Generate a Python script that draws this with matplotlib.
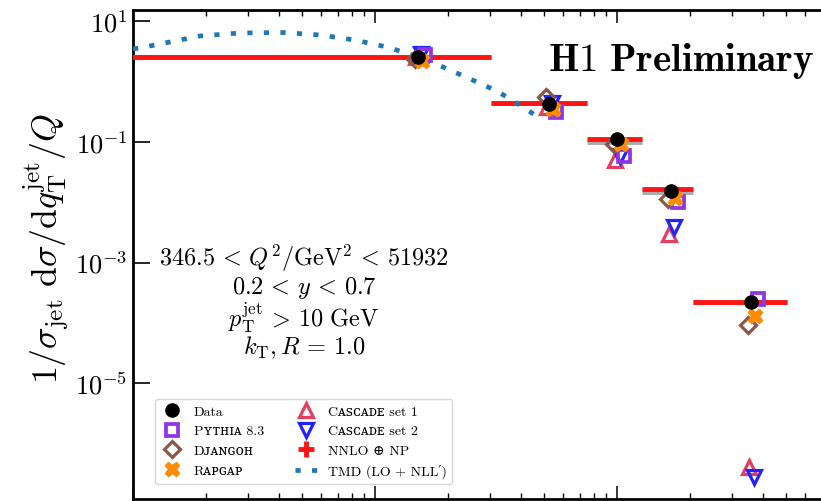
import matplotlib
matplotlib.use("Agg")
import matplotlib.pyplot as plt
from matplotlib.lines import Line2D
from matplotlib.ticker import LogLocator, NullLocator, NullFormatter
import numpy as np

plt.rcParams['mathtext.fontset'] = 'cm'
plt.rcParams['axes.formatter.use_mathtext'] = True

# ---------------- data ----------------
bin_lo = [0.001, 0.301, 0.752, 1.27, 2.06]
bin_hi = [0.301, 0.752, 1.27, 2.06, 5.04]
x_center = [0.151, 0.524, 1.0, 1.67, 3.58]

data = [2.54, 0.423, 0.111, 0.0153, 2.23e-4]
nnlo_np = [2.54, 0.439, 0.111, 0.0165, 2.23e-4]
nnlo = [2.54, 0.439, 0.100, 0.0147, 2.20e-4]
pythia = [2.74, 0.311, 0.058, 0.0101, 2.5e-4]
djangoh = [2.35, 0.552, 0.092, 0.0113, 9.3e-5]
rapgap = [2.18, 0.349, 0.092, 0.0117, 1.31e-4]
cascade1 = [2.54, 0.377, 0.050, 0.00297, 4.13e-7]
cascade2 = [2.85, 0.439, 0.058, 0.00389, 2.82e-7]

tmd_x = [0.0100, 0.01175, 0.0149, 0.0189, 0.0277, 0.0417, 0.0593, 0.0826,
         0.112, 0.151, 0.191, 0.247, 0.319, 0.409, 0.458]
tmd_y = [3.44, 3.86, 4.67, 5.65, 6.33, 6.45, 5.86, 4.84,
         3.71, 2.54, 1.73, 1.10, 0.694, 0.377, 0.278]

yticks = [1e1, 1e-1, 1e-3, 1e-5]
ytick_labels = [r'$10^{1}$', r'$10^{-1}$', r'$10^{-3}$', r'$10^{-5}$']
annot_lines = [r'$346.5\,<\,Q^2/\mathrm{GeV}^2\,<\,51932$',
               r'$0.2\,<\,y\,<\,0.7$',
               r'$p_\mathrm{T}^\mathrm{jet}\,>\,10\ \mathrm{GeV}$',
               r'$k_\mathrm{T}, R\,=\,1.0$']

# ---------------- figure ----------------
W, H = 821, 502
fig = plt.figure(figsize=(W / 100, H / 100), dpi=100)
ax_left, ax_right, ax_top, ax_bot = 133, 859, 11, 499.5
ax = fig.add_axes([ax_left / W, 1 - ax_bot / H, (ax_right - ax_left) / W,
                   (ax_bot - ax_top) / H])
ax.set_xscale('log')
ax.set_yscale('log')
ax.set_xlim(0.01, 10)
ax.set_ylim(10 ** (1 - (ax_bot - 22) / 60.4), 10 ** (1 + (22 - ax_top) / 60.4))


def dodge(px):
    return 10 ** (px / 242.0)


xc = np.array(x_center)

# NNLO lines
ax.hlines(nnlo, bin_lo, bin_hi, color='#aaaaaa', lw=3.5, zorder=2)
ax.hlines(nnlo_np, bin_lo, bin_hi, color='#ff1414', lw=3.5, zorder=3)

# TMD curve
ax.plot(tmd_x, tmd_y, color='#1f77b4', lw=3.4, linestyle=(0, (1.1, 2.4)),
        dash_capstyle='butt', zorder=4)

ms = 9.5
mew = 2.3
ax.plot(xc * dodge(-2), cascade1, ls='none', marker='^', ms=ms, mfc='none',
        mec='#e2405e', mew=mew, zorder=5)
ax.plot(xc * dodge(3), cascade2, ls='none', marker='v', ms=ms, mfc='none',
        mec='#2222ff', mew=mew, zorder=5)
ax.plot(xc * dodge(7), pythia, ls='none', marker='s', ms=ms - 1, mfc='none',
        mec='#9035e6', mew=mew + 0.4, zorder=5)
ax.plot(xc * dodge(-3), djangoh, ls='none', marker='D', ms=ms - 1, mfc='none',
        mec='#8c564b', mew=mew, zorder=6)
ax.plot(xc * dodge(4), rapgap, ls='none', marker='X', ms=ms + 1,
        color='#ff8c00', mec='#ff8c00', zorder=7)
ax.plot(xc, data, ls='none', marker='o', ms=ms, color='black', zorder=10)

# ticks
ax.set_yticks(yticks)
ax.set_yticklabels(ytick_labels)
ax.yaxis.set_minor_locator(NullLocator())
ax.xaxis.set_major_locator(LogLocator(base=10))
ax.xaxis.set_minor_locator(LogLocator(base=10, subs=np.arange(2, 10)))
ax.xaxis.set_major_formatter(NullFormatter())
ax.xaxis.set_minor_formatter(NullFormatter())
ax.tick_params(axis='y', which='major', direction='in', length=12, width=1.2,
               labelsize=19, pad=4, left=True, right=False)
ax.tick_params(axis='x', which='major', direction='in', length=9.5, width=1.1,
               top=True, bottom=True)
ax.tick_params(axis='x', which='minor', direction='in', length=4.5, width=1.0,
               top=True, bottom=True)
for s in ax.spines.values():
    s.set_linewidth(2.0)

# y label (size fitted so that it spans the same length as in the reference)
ylab = fig.text(46 / W, 1 - 248 / H,
                r'$1/\sigma_\mathrm{jet}\ \mathrm{d}\sigma/\mathrm{d}q_\mathrm{T}^\mathrm{jet}/Q$',
                rotation=90, ha='center', va='center', fontsize=18.5)
fig.canvas.draw()
bb = ylab.get_window_extent(renderer=fig.canvas.get_renderer())
ylab.set_fontsize(18.5 * 272.0 / bb.height)

# annotation
for line, ypx in zip(annot_lines, [258, 288, 318, 348]):
    fig.text(304 / W, 1 - ypx / H, line, ha='center', va='center', fontsize=17.5)

# H1 Preliminary
fig.text(548 / W, 1 - 61 / H, r'$\mathbf{H1\ Preliminary}$', ha='left',
         va='center', fontsize=28)

# legend
handles = [
    Line2D([], [], ls='none', marker='o', ms=ms, color='black'),
    Line2D([], [], ls='none', marker='s', ms=ms - 1, mfc='none', mec='#9035e6', mew=mew + 0.4),
    Line2D([], [], ls='none', marker='D', ms=ms - 1, mfc='none', mec='#8c564b', mew=mew),
    Line2D([], [], ls='none', marker='X', ms=ms + 1, color='#ff8c00'),
    Line2D([], [], ls='none', marker='^', ms=ms, mfc='none', mec='#e2405e', mew=mew),
    Line2D([], [], ls='none', marker='v', ms=ms, mfc='none', mec='#2222ff', mew=mew),
    Line2D([], [], ls='none', marker='+', ms=11, mec='#ff1414', mew=3.5),
    Line2D([], [], color='#1f77b4', lw=3.4, linestyle=(0, (1.1, 2.4)), dash_capstyle='butt'),
]
labels = ['Data', 'P\u028f\u1d1b\u029c\u026a\u1d00 8.3', 'D\u1d0a\u1d00\u0274\u0262\u1d0f\u029c',
          'R\u1d00\u1d18\u0262\u1d00\u1d18',
          'C\u1d00\ua731\u1d04\u1d00\u1d05\u1d07 set 1', 'C\u1d00\ua731\u1d04\u1d00\u1d05\u1d07 set 2',
          'NNLO \u2295 NP', 'TMD (LO + NLL\u2032)']
leg = ax.legend(handles, labels, ncol=2, loc='lower left',
                bbox_to_anchor=((155 - ax_left) / (ax_right - ax_left),
                                (ax_bot - 485) / (ax_bot - ax_top)),
                borderaxespad=0, prop={'family': ['cmr10', 'DejaVu Serif', 'DejaVu Sans'], 'size': 10},
                handlelength=1.6, handletextpad=0.8, columnspacing=2.2,
                labelspacing=0.5, framealpha=0.8, edgecolor='#cccccc')

fig.savefig('out.png', dpi=100)
